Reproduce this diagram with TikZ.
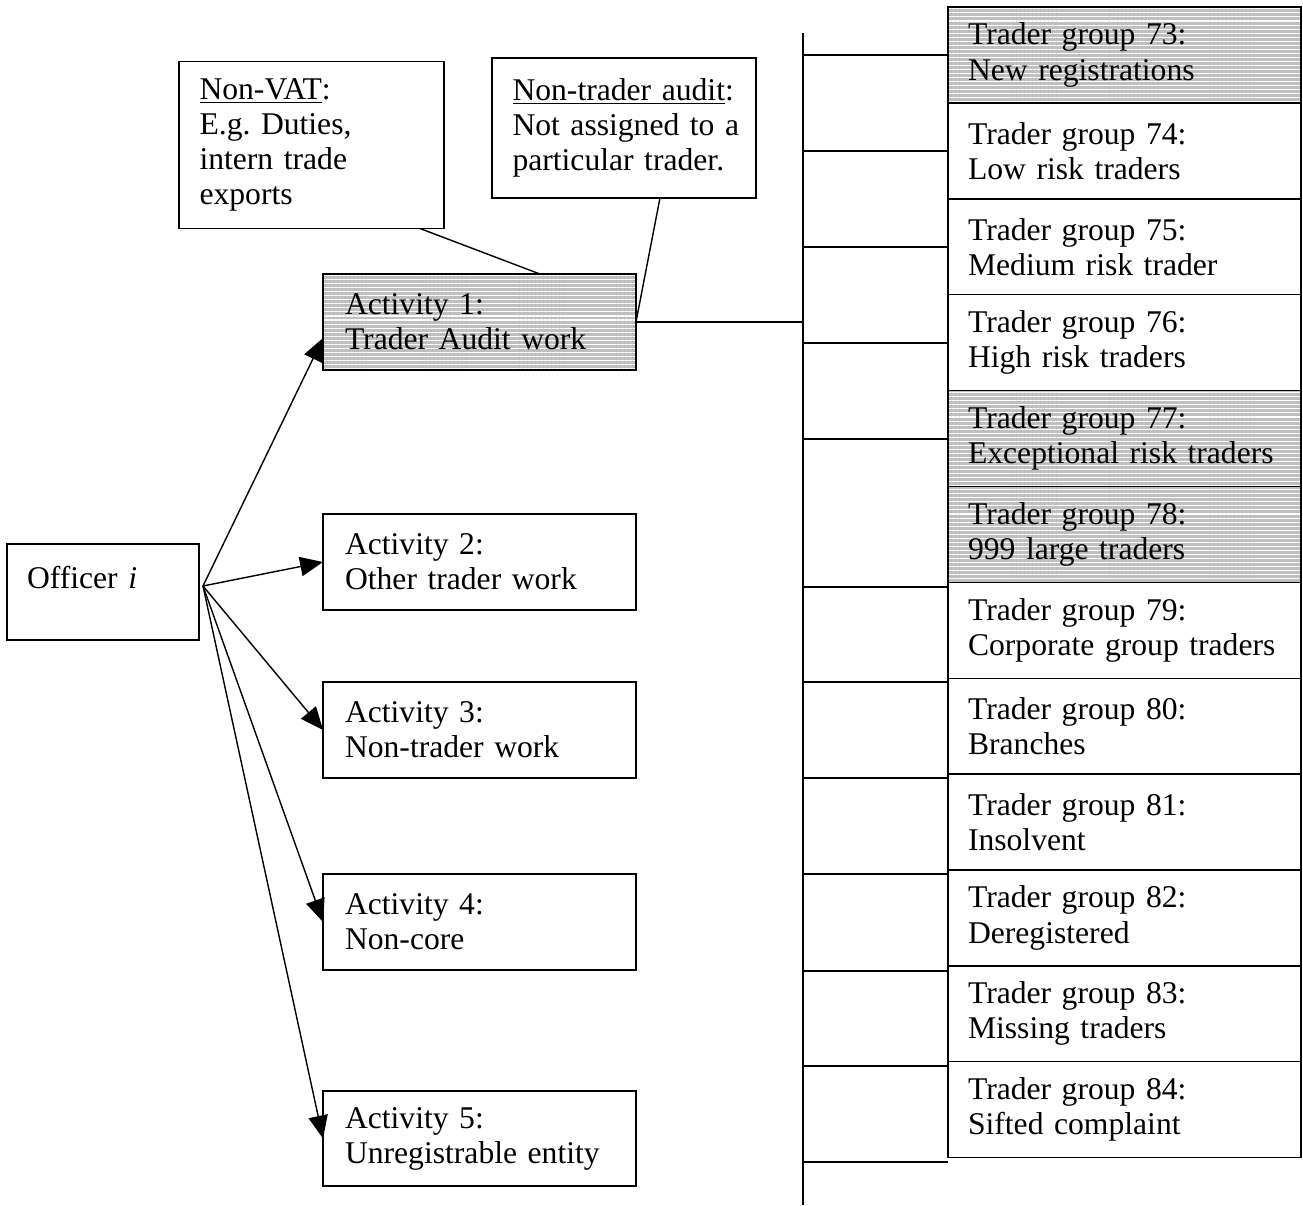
\documentclass[tikz,border=0pt]{standalone}
\usepackage{fontspec}
\setmainfont{Liberation Serif}
\usepackage{xcolor}
\usetikzlibrary{arrows.meta,positioning,calc,patterns.meta}
\definecolor{stripegray}{HTML}{BFBFBF}
\newcommand{\boxfont}{\fontsize{18}{20}\selectfont\frenchspacing}
\tikzset{
  box/.style={draw, line width=0.8pt, outer sep=0pt, align=left, font=\boxfont},
  actbox/.style={box, inner xsep=0.44cm, text width=5.38cm, minimum height=1.92cm},
  tgbox/.style={box, inner xsep=0.4cm, text width=6.26cm, minimum height=1.918cm},
  notebox/.style={box, inner xsep=0.41cm},
  shaded/.style={preaction={fill=stripegray},
    pattern={Lines[angle=0,distance=2.3pt,line width=0.6pt]}, pattern color=white},
  link/.style={line width=0.8pt},
  arr/.style={link, -{Triangle[length=13pt,width=11pt]}},
}

\begin{document}
\begin{tikzpicture}[x=0.02cm,y=-0.02cm]
  \useasboundingbox (0,0) rectangle (1303,1205);
  % officer and activities
  \node[box, inner xsep=0.4cm, text width=3.04cm, minimum height=1.92cm, text depth=0.58cm]
    (officer) at (103,592) {Officer \textit{i}};
  \node[actbox, shaded] (act1) at (479.5,322) {Activity 1:\\Trader Audit work};
  \node[actbox] (act2) at (479.5,562) {Activity 2:\\Other trader work};
  \node[actbox] (act3) at (479.5,730) {Activity 3:\\Non-trader work};
  \node[actbox] (act4) at (479.5,922) {Activity 4:\\Non-core};
  \node[actbox, minimum height=1.9cm] (act5) at (479.5,1138.5) {Activity 5:\\Unregistrable entity};
  % notes above activity 1
  \node[notebox, text width=4.48cm, minimum height=3.34cm] (nonvat) at (311.5,145)
    {\underline{Non-VAT}:\\E.g. Duties,\\intern trade\\exports};
  \node[notebox, text width=4.46cm, minimum height=2.8cm] (nontrader) at (624,128)
    {\mbox{\underline{Non-trader audit}:}\\\mbox{Not assigned to a}\\\mbox{particular trader.}};
  % trader groups
  \node[tgbox, shaded] (tg73) at (1124.5,55) {Trader group 73:\\New registrations};
  \node[tgbox, below=0pt of tg73] (tg74) {Trader group 74:\\Low risk traders};
  \node[tgbox, below=0pt of tg74] (tg75) {Trader group 75:\\Medium risk trader};
  \node[tgbox, below=0pt of tg75] (tg76) {Trader group 76:\\High risk traders};
  \node[tgbox, shaded, below=0pt of tg76] (tg77) {Trader group 77:\\Exceptional risk traders};
  \node[tgbox, shaded, below=0pt of tg77] (tg78) {Trader group 78:\\999 large traders};
  \node[tgbox, below=0pt of tg78] (tg79) {Trader group 79:\\Corporate group traders};
  \node[tgbox, below=0pt of tg79] (tg80) {Trader group 80:\\Branches};
  \node[tgbox, below=0pt of tg80] (tg81) {Trader group 81:\\Insolvent};
  \node[tgbox, below=0pt of tg81] (tg82) {Trader group 82:\\Deregistered};
  \node[tgbox, below=0pt of tg82] (tg83) {Trader group 83:\\Missing traders};
  \node[tgbox, below=0pt of tg83] (tg84) {Trader group 84:\\Sifted complaint};

  % fan of arrows from the officer
  \coordinate (fan) at (203,586);
  \draw[arr] (fan) -- ([yshift=-0.32cm]act1.west);
  \draw[arr] (fan) -- (act2.west);
  \draw[arr] (fan) -- (act3.west);
  \draw[arr] (fan) -- (act4.west);
  \draw[arr] (fan) -- (act5.west);

  % notes to activity 1
  \draw[link] ($(nonvat.south east)+(-24,0)$) -- ($(act1.north east)+(-96,0)$);
  \draw[link] ($(nontrader.south east)+(-96,0)$) -- (act1.east);

  % trunk line to trader groups
  \coordinate (trunktop) at (803,33);
  \coordinate (trunkbot) at (803,1205);
  \draw[link] (trunktop) -- (trunkbot);
  \draw[link] (act1.east) -- (act1.east -| trunktop);
  \foreach \y in {55,151,247,343,439,587,682,778,874,971,1066,1162}
    \draw[link] (trunktop |- 0,\y) -- (tg73.west |- 0,\y);
\end{tikzpicture}
\end{document}
